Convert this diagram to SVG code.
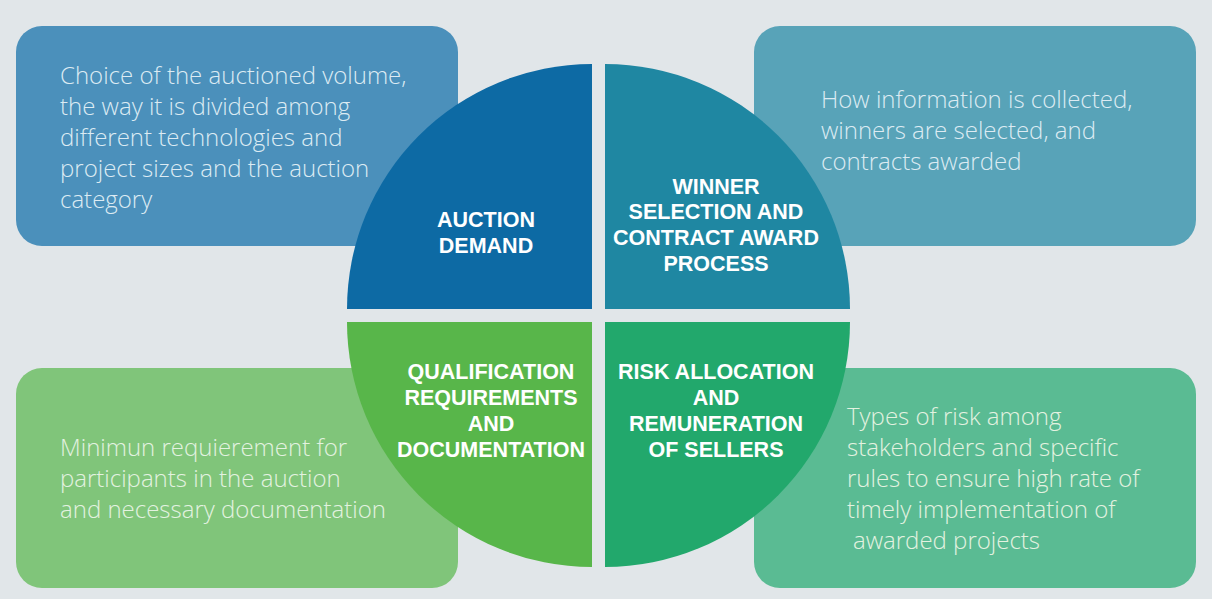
<svg xmlns="http://www.w3.org/2000/svg" width="1212" height="599" viewBox="0 0 1212 599">
<style>
.body{font-family:"Open Sans","Liberation Sans",sans-serif;font-weight:300;font-size:24px}
.bw{fill:#dcebf3}
.gw{fill:#e3f2e0}
.lbl{font-family:"Liberation Sans","DejaVu Sans",sans-serif;font-weight:bold;font-size:21.5px;fill:#ffffff;text-anchor:middle}
</style>
<rect x="0" y="0" width="1212" height="599" fill="#e1e6e9"/>
<g id="box-auction-demand"><rect x="16" y="26" width="442" height="220" rx="26" fill="#4b90bb"/>
<text class="body bw"><tspan x="60" y="84">Choice of the auctioned volume,</tspan><tspan x="60" y="115">the way it is divided among</tspan><tspan x="60" y="146">different technologies and</tspan><tspan x="60" y="177">project sizes and the auction</tspan><tspan x="60" y="208">category</tspan></text></g>
<g id="box-winner"><rect x="754" y="26" width="442" height="220" rx="26" fill="#58a3b8"/>
<text class="body bw"><tspan x="821" y="108">How information is collected,</tspan><tspan x="821" y="139">winners are selected, and</tspan><tspan x="821" y="170">contracts awarded</tspan></text></g>
<g id="box-qualification"><rect x="16" y="368" width="442" height="220" rx="26" fill="#80c57a"/>
<text class="body gw"><tspan x="60" y="456">Minimun requierement for</tspan><tspan x="60" y="487">participants in the auction</tspan><tspan x="60" y="518">and necessary documentation</tspan></text></g>
<g id="box-risk"><rect x="754" y="368" width="442" height="220" rx="26" fill="#5abb93"/>
<text class="body gw"><tspan x="847" y="425">Types of risk among</tspan><tspan x="847" y="456">stakeholders and specific</tspan><tspan x="847" y="487">rules to ensure high rate of</tspan><tspan x="847" y="518">timely implementation of</tspan><tspan x="853" y="549">awarded projects</tspan></text></g>
<g id="q-auction-demand"><path d="M592,309 L347,309 A245,245 0 0 1 592,64 Z" fill="#0d6aa4"/>
<text class="lbl"><tspan x="486" y="227">AUCTION</tspan><tspan x="486" y="253">DEMAND</tspan></text></g>
<g id="q-winner"><path d="M605,309 L605,64 A245,245 0 0 1 850,309 Z" fill="#1f87a2"/>
<text class="lbl"><tspan x="716" y="194">WINNER</tspan><tspan x="716" y="219">SELECTION AND</tspan><tspan x="716" y="245">CONTRACT AWARD</tspan><tspan x="716" y="271">PROCESS</tspan></text></g>
<g id="q-qualification"><path d="M592,322 L592,567 A245,245 0 0 1 347,322 Z" fill="#58b64a"/>
<text class="lbl"><tspan x="491" y="379">QUALIFICATION</tspan><tspan x="491" y="405">REQUIREMENTS</tspan><tspan x="491" y="431">AND</tspan><tspan x="491" y="457">DOCUMENTATION</tspan></text></g>
<g id="q-risk"><path d="M605,322 L850,322 A245,245 0 0 1 605,567 Z" fill="#22a86c"/>
<text class="lbl"><tspan x="716" y="379">RISK ALLOCATION</tspan><tspan x="716" y="405">AND</tspan><tspan x="716" y="431">REMUNERATION</tspan><tspan x="716" y="457">OF SELLERS</tspan></text></g>
<g id="connectors"/>
</svg>
